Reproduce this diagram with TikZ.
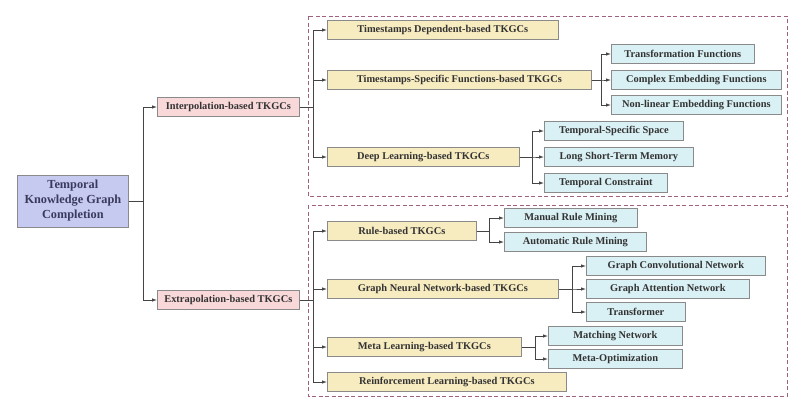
\documentclass[tikz,border=0pt]{standalone}
\usepackage{fontspec}
\setmainfont{Liberation Serif}
\usetikzlibrary{arrows.meta}
\definecolor{bordc}{HTML}{8A8A8A}
\definecolor{txtc}{HTML}{333333}
\definecolor{rootc}{HTML}{C6CAF0}
\definecolor{roott}{HTML}{3A3A5C}
\definecolor{pinkc}{HTML}{F8D8D8}
\definecolor{yelc}{HTML}{F7EBC0}
\definecolor{cyanc}{HTML}{D9F0F4}
\definecolor{dashc}{HTML}{A0607E}
\definecolor{linec}{HTML}{444444}
\tikzset{
  basebox/.style={draw=bordc, line width=0.7pt, minimum height=19, inner sep=0pt, anchor=west,
    font=\fontsize{10.4}{12}\selectfont\bfseries, text=txtc},
  rootbox/.style={basebox, fill=rootc, text=roott, align=center, minimum height=52,
    font=\fontsize{12.3}{15}\selectfont\bfseries},
  pinkbox/.style={basebox, fill=pinkc},
  yelbox/.style={basebox, fill=yelc},
  cyanbox/.style={basebox, fill=cyanc},
  conn/.style={draw=linec, line width=0.8pt, -{Latex[length=5pt,width=3.5pt]}},
  dashbox/.style={draw=dashc, line width=0.8pt, dash pattern=on 4pt off 2.5pt}
}
\begin{document}
\begin{tikzpicture}[x=1pt,y=-1pt]
\useasboundingbox (0,0) rectangle (800,413);
% dashed frames
\draw[dashbox] (308,16) rectangle (787,196);
\draw[dashbox] (308,205) rectangle (787,396);
% root
\node[rootbox, minimum width=111] (root) at (17,201) {Temporal\\Knowledge Graph\\Completion};
% level 1
\node[pinkbox, minimum width=142] (interp) at (157,107) {Interpolation-based TKGCs};
\node[pinkbox, minimum width=142] (extrap) at (157,300) {Extrapolation-based TKGCs};
% level 2 interpolation
\node[yelbox, minimum width=231] (tdb) at (327,30) {Timestamps Dependent-based TKGCs};
\node[yelbox, minimum width=264] (tsf) at (327,80) {Timestamps-Specific Functions-based TKGCs};
\node[yelbox, minimum width=192] (dl) at (327,157) {Deep Learning-based TKGCs};
% level 3 tsf
\node[cyanbox, minimum width=143] (tf) at (611,54) {Transformation Functions};
\node[cyanbox, minimum width=170] (cef) at (611,80) {Complex Embedding Functions};
\node[cyanbox, minimum width=170] (nef) at (611,105) {Non-linear Embedding Functions};
% level 3 dl
\node[cyanbox, minimum width=139] (tss) at (544,131) {Temporal-Specific Space};
\node[cyanbox, minimum width=149] (lstm) at (544,157) {Long Short-Term Memory};
\node[cyanbox, minimum width=123] (tc) at (544,183) {Temporal Constraint};
% level 2 extrapolation
\node[yelbox, minimum width=149] (rule) at (327,231) {Rule-based TKGCs};
\node[yelbox, minimum width=231] (gnn) at (327,289) {Graph Neural Network-based TKGCs};
\node[yelbox, minimum width=194] (meta) at (327,347) {Meta Learning-based TKGCs};
\node[yelbox, minimum width=239] (rl) at (327,382) {Reinforcement Learning-based TKGCs};
% level 3 rule
\node[cyanbox, minimum width=133] (mrm) at (504,218) {Manual Rule Mining};
\node[cyanbox, minimum width=142] (arm) at (504,242) {Automatic Rule Mining};
% level 3 gnn
\node[cyanbox, minimum width=179] (gcn) at (586,266) {Graph Convolutional Network};
\node[cyanbox, minimum width=163] (gat) at (586,289) {Graph Attention Network};
\node[cyanbox, minimum width=99] (trf) at (586,312) {Transformer};
% level 3 meta
\node[cyanbox, minimum width=134] (mn) at (548,336) {Matching Network};
\node[cyanbox, minimum width=134] (mo) at (548,359) {Meta-Optimization};
% connectors
\foreach \c in {interp,extrap} \draw[conn] (root.east) -- ++(15,0) |- (\c.west);
\foreach \c in {tdb,tsf,dl} \draw[conn] (interp.east) -- ++(14,0) |- (\c.west);
\foreach \c in {rule,gnn,meta,rl} \draw[conn] (extrap.east) -- ++(14,0) |- (\c.west);
\foreach \c in {tf,cef,nef} \draw[conn] (tsf.east) -- ++(10,0) |- (\c.west);
\foreach \c in {tss,lstm,tc} \draw[conn] (dl.east) -- ++(13,0) |- (\c.west);
\foreach \c in {mrm,arm} \draw[conn] (rule.east) -- ++(13,0) |- (\c.west);
\foreach \c in {gcn,gat,trf} \draw[conn] (gnn.east) -- ++(14,0) |- (\c.west);
\foreach \c in {mn,mo} \draw[conn] (meta.east) -- ++(14,0) |- (\c.west);
\end{tikzpicture}
\end{document}
